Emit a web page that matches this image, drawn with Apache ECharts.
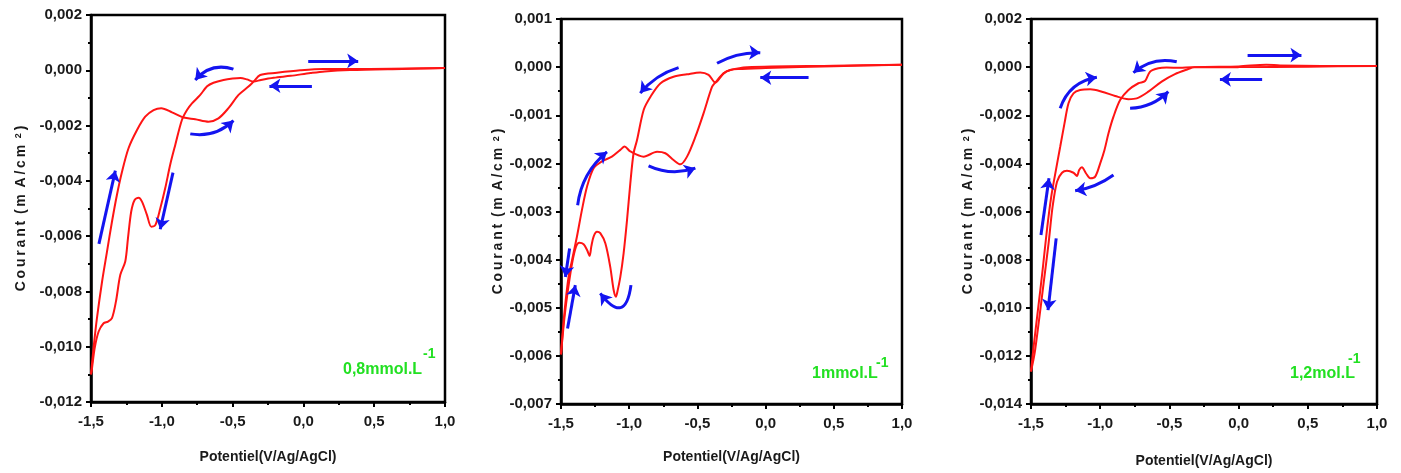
<!DOCTYPE html>
<html><head><meta charset="utf-8">
<script src="https://cdn.jsdelivr.net/npm/echarts@6/dist/echarts.min.js"></script>
<style>html,body{margin:0;padding:0;background:#fff}#c{width:1401px;height:473px}</style>
</head><body><div id="c"></div><script>
// ---------- data ----------
const xRange = [-1.5, 1.0, 0.5];               // potential axis min, max, step (V)
const yRange1 = [-0.012, 0.002, 0.002];        // current axis, panel 1
const yRange2 = [-0.007, 0.001, 0.001];        // current axis, panel 2
const yRange3 = [-0.014, 0.002, 0.002];        // current axis, panel 3
const xTitle = 'Potentiel(V/Ag/AgCl)';
const yTitle = 'C\u2009o\u2009u\u2009r\u2009a\u2009n\u2009t\u2009 (\u2009m\u2009 A\u2009/\u2009c\u2009m\u2009 {s|2}\u2009)';
const concLabels = ['0,8mmol.L', '1mmol.L', '1,2mol.L'];
const concSup = '-1';

// panel 1 : 0,8 mmol/L  [potential V, current]
const cv1Forward = [[1.0,0.00008],[0.7,0.00005],[0.33,0.00001],[0.15,-0.00004],[0.05,-0.0001],[-0.09,-0.0002],[-0.21,-0.00027],[-0.30,-0.00035],[-0.352,-0.00041],[-0.399,-0.00033],[-0.445,-0.00028],[-0.50,-0.0003],[-0.564,-0.00035],[-0.635,-0.00045],[-0.68,-0.00058],[-0.73,-0.0009],[-0.787,-0.0012],[-0.822,-0.00144],[-0.858,-0.0018],[-0.905,-0.0027],[-0.94,-0.0034],[-0.976,-0.00427],[-1.011,-0.005],[-1.046,-0.0056],[-1.074,-0.00566],[-1.105,-0.00523],[-1.14,-0.00475],[-1.164,-0.00461],[-1.192,-0.00469],[-1.216,-0.00511],[-1.239,-0.00608],[-1.258,-0.00692],[-1.293,-0.0074],[-1.324,-0.00837],[-1.352,-0.00897],[-1.38,-0.00909],[-1.411,-0.00915],[-1.446,-0.00945],[-1.474,-0.01005],[-1.493,-0.01078],[-1.5,-0.011]];
const cv1Reverse = [[-1.5,-0.011],[-1.482,-0.01005],[-1.458,-0.00897],[-1.422,-0.00765],[-1.387,-0.00656],[-1.352,-0.00548],[-1.317,-0.00451],[-1.281,-0.00367],[-1.235,-0.00282],[-1.175,-0.00216],[-1.117,-0.00168],[-1.058,-0.00144],[-1.004,-0.00137],[-0.928,-0.00152],[-0.846,-0.00171],[-0.764,-0.00177],[-0.67,-0.00186],[-0.6,-0.00174],[-0.529,-0.00137],[-0.458,-0.00089],[-0.388,-0.00059],[-0.352,-0.00041],[-0.305,-0.00017],[-0.187,-0.00009],[-0.023,0],[0.141,0.00005],[0.47,0.00005],[1.0,0.00008]];

// panel 2 : 1 mmol/L
const cv2Forward = [[1.0,0.00005],[0.5,0.00002],[0.0,-0.00002],[-0.2,-0.00004],[-0.259,-0.00006],[-0.308,-0.00013],[-0.369,-0.00032],[-0.418,-0.00016],[-0.479,-0.00011],[-0.576,-0.00015],[-0.675,-0.0002],[-0.772,-0.00034],[-0.845,-0.00062],[-0.894,-0.00089],[-0.943,-0.00152],[-0.968,-0.00179],[-0.992,-0.00242],[-1.016,-0.00318],[-1.041,-0.00387],[-1.065,-0.00436],[-1.089,-0.0047],[-1.097,-0.00477],[-1.114,-0.00463],[-1.139,-0.00415],[-1.175,-0.00366],[-1.212,-0.00345],[-1.236,-0.00342],[-1.261,-0.00352],[-1.278,-0.00373],[-1.29,-0.00392],[-1.309,-0.0038],[-1.334,-0.00368],[-1.366,-0.00365],[-1.39,-0.00373],[-1.419,-0.00408],[-1.449,-0.00463],[-1.474,-0.00519],[-1.493,-0.00574],[-1.5,-0.00597]];
const cv2Reverse = [[-1.5,-0.00597],[-1.488,-0.00552],[-1.468,-0.00491],[-1.444,-0.00435],[-1.419,-0.00401],[-1.383,-0.00352],[-1.346,-0.00296],[-1.309,-0.00248],[-1.261,-0.0021],[-1.2,-0.00196],[-1.127,-0.00186],[-1.065,-0.00172],[-1.034,-0.00165],[-0.992,-0.00175],[-0.894,-0.00186],[-0.796,-0.00176],[-0.735,-0.00179],[-0.675,-0.00193],[-0.625,-0.00202],[-0.576,-0.00186],[-0.515,-0.00145],[-0.455,-0.00096],[-0.393,-0.00041],[-0.369,-0.00032],[-0.308,-0.00013],[-0.259,-0.00006],[-0.136,0],[0.5,0.00003],[1.0,0.00005]];

// panel 3 : 1,2 mol/L
const cv3Forward = [[1.0,0.00005],[0.5,0.00002],[0.0,0.0],[-0.339,0],[-0.424,-0.00003],[-0.52,-0.00002],[-0.58,-0.00005],[-0.64,-0.00019],[-0.676,-0.00058],[-0.724,-0.00067],[-0.796,-0.00095],[-0.856,-0.00137],[-0.904,-0.00206],[-0.94,-0.00275],[-0.969,-0.00344],[-1.0,-0.004],[-1.036,-0.00455],[-1.072,-0.00462],[-1.103,-0.00441],[-1.132,-0.00416],[-1.152,-0.00428],[-1.168,-0.00452],[-1.193,-0.00439],[-1.24,-0.00431],[-1.276,-0.00439],[-1.312,-0.00476],[-1.344,-0.0058],[-1.373,-0.00732],[-1.409,-0.00899],[-1.445,-0.01065],[-1.474,-0.0119],[-1.5,-0.01265]];
const cv3Reverse = [[-1.5,-0.01265],[-1.481,-0.01162],[-1.45,-0.0101],[-1.416,-0.00843],[-1.385,-0.00677],[-1.354,-0.00539],[-1.32,-0.00428],[-1.289,-0.00331],[-1.258,-0.00234],[-1.229,-0.0015],[-1.193,-0.00109],[-1.145,-0.00095],[-1.072,-0.00092],[-0.988,-0.00102],[-0.892,-0.0012],[-0.796,-0.00133],[-0.736,-0.0013],[-0.652,-0.00102],[-0.556,-0.0006],[-0.46,-0.00029],[-0.364,-0.00008],[-0.32,0],[0.0,0.00003],[0.2,0.0001],[0.3,0.00007],[0.6,0.00005],[1.0,0.00005]];

// scan-direction arrows [x1, y1, x2, y2] in data units
const arrows1 = [[0.034,0.00034,0.387,0.00034],[0.06,-0.00056,-0.24,-0.00056],[-0.494,0.00004,-0.764,-0.00035],[-0.799,-0.0023,-0.494,-0.00182],[-0.921,-0.0037,-1.011,-0.00575],[-1.444,-0.00628,-1.328,-0.00363]];
const arrows2 = [[-0.356,0.00008,-0.039,0.0003],[0.315,-0.00022,-0.039,-0.00022],[-0.638,-0.00001,-0.919,-0.00054],[-0.858,-0.00205,-0.515,-0.0021],[-1.378,-0.00287,-1.163,-0.00176],[-1.437,-0.00377,-1.468,-0.00436],[-1.452,-0.00543,-1.395,-0.00453],[-0.987,-0.00453,-1.212,-0.0047]];
const arrows3 = [[0.065,0.0005,0.454,0.0005],[0.17,-0.00051,-0.135,-0.00051],[-0.447,0.00022,-0.76,-0.00023],[-0.784,-0.00171,-0.508,-0.00102],[-1.289,-0.00171,-1.024,-0.00042],[-0.904,-0.00448,-1.181,-0.00514],[-1.428,-0.00698,-1.37,-0.00462],[-1.318,-0.00712,-1.377,-0.0101]];

// ---------- styles / layout ----------
const bend1 = [0, 0, -0.33, -0.25, 0, 0];
const bend2 = [0.14, 0, -0.15, -0.2, 0.2, 0, 0, 1.2];
const bend3 = [0, 0, -0.25, -0.2, 0.3, 0.12, 0, 0];
const grids = [
  {left: 91, top: 15, width: 354, height: 387},
  {left: 561, top: 19, width: 341, height: 385},
  {left: 1031, top: 19, width: 346, height: 385}
];
const yNameGap = [63, 53, 54];
const xNameGap = [48, 46, 50];
const FONT = 'Liberation Sans, Arial, sans-serif';
const RED = '#ff1414', BLUE = '#1414f0', GREEN = '#22e022', INK = '#1a1a1a';

function fmtX(v){ if (Math.abs(v) < 1e-9) v = 0; return v.toFixed(1).replace('.', ','); }
function fmtY(v){ if (Math.abs(v) < 1e-12) v = 0; return v.toFixed(3).replace('.', ','); }

const yRanges = [yRange1, yRange2, yRange3];
const cvs = [[cv1Forward, cv1Reverse], [cv2Forward, cv2Reverse], [cv3Forward, cv3Reverse]];
const arrowSets = [arrows1, arrows2, arrows3];
const bends = [bend1, bend2, bend3];

const axisLineStyle = {show: true, onZero: false, lineStyle: {color: '#000', width: 2.5}};
const option = {
  backgroundColor: '#fff',
  animation: false,
  grid: grids.map(g => Object.assign({show: true, borderColor: '#000', borderWidth: 2.5, backgroundColor: 'transparent'}, g)),
  xAxis: grids.map((g, i) => ({
    gridIndex: i, type: 'value', min: xRange[0], max: xRange[1], interval: xRange[2],
    name: xTitle, nameLocation: 'middle', nameGap: xNameGap[i],
    nameTextStyle: {fontFamily: FONT, fontWeight: 'bold', fontSize: 14, color: INK},
    axisLine: axisLineStyle,
    axisTick: {show: true, inside: false, length: 5, lineStyle: {color: '#000', width: 2}},
    minorTick: {show: true, splitNumber: 2, length: 3, lineStyle: {color: '#000', width: 2}},
    splitLine: {show: false},
    axisLabel: {formatter: fmtX, margin: 12, fontFamily: FONT, fontWeight: 'bold', fontSize: 15, color: INK}
  })),
  yAxis: grids.map((g, i) => ({
    gridIndex: i, type: 'value', min: yRanges[i][0], max: yRanges[i][1], interval: yRanges[i][2],
    name: yTitle, nameLocation: 'middle', nameGap: yNameGap[i], nameRotate: 90,
    nameTextStyle: {fontFamily: FONT, fontWeight: 'bold', fontSize: 14, color: INK,
      rich: {s: {fontFamily: FONT, fontWeight: 'bold', fontSize: 9, color: INK, verticalAlign: 'top', lineHeight: 14}}},
    axisLine: axisLineStyle,
    axisTick: {show: true, inside: false, length: 5, lineStyle: {color: '#000', width: 2}},
    minorTick: {show: true, splitNumber: 2, length: 3, lineStyle: {color: '#000', width: 2}},
    splitLine: {show: false},
    axisLabel: {formatter: fmtY, margin: 9, fontFamily: FONT, fontWeight: 'bold', fontSize: 15, color: INK}
  })),
  series: [],
  graphic: []
};

cvs.forEach((pair, i) => {
  pair.forEach(d => {
    option.series.push({
      type: 'line', xAxisIndex: i, yAxisIndex: i, data: d, showSymbol: false, symbol: 'none',
      smooth: 0.3, lineStyle: {color: RED, width: 2}, z: 3, clip: false
    });
  });
  option.series.push({
    type: 'lines', coordinateSystem: 'cartesian2d', xAxisIndex: i, yAxisIndex: i, z: 4,
    symbol: ['none', 'arrow'], symbolSize: 11,
    lineStyle: {color: BLUE, width: 3, opacity: 1},
    data: arrowSets[i].map((a, k) => ({coords: [[a[0], a[1]], [a[2], a[3]]], lineStyle: {curveness: bends[i][k]}}))
  });
});

// concentration labels (green)
const labelPos = [[343, 362, 423, 347], [812, 366, 876, 356], [1290, 366, 1348, 352]];
labelPos.forEach((p, i) => {
  option.graphic.push({type: 'text', left: p[0], top: p[1], z: 10,
    style: {text: concLabels[i], font: 'bold 16px ' + FONT, fill: GREEN}});
  option.graphic.push({type: 'text', left: p[2], top: p[3], z: 10,
    style: {text: concSup, font: 'bold 14px ' + FONT, fill: GREEN}});
});

const chart = echarts.init(document.getElementById('c'), null, {renderer: 'canvas'});
chart.setOption(option);
</script></body></html>
